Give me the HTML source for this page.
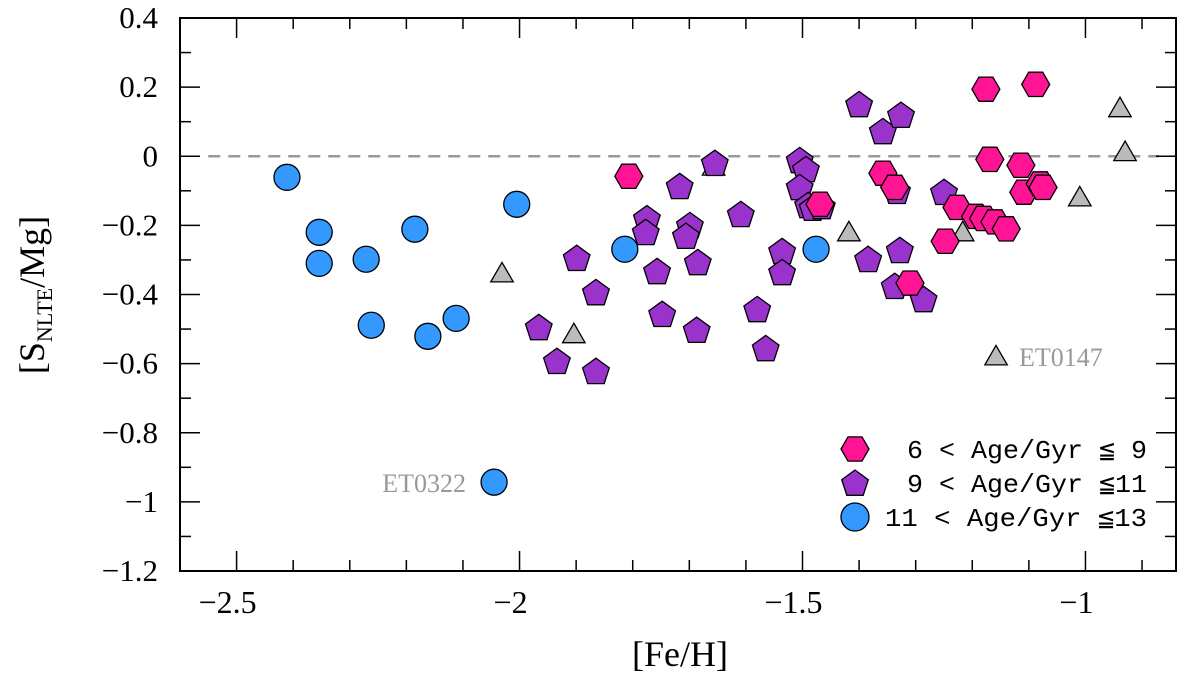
<!DOCTYPE html>
<html><head><meta charset="utf-8"><style>
html,body{margin:0;padding:0;background:#fff;}
svg{display:block;font-family:"Liberation Serif",serif;}
</style></head><body>
<svg id="chart" width="1200" height="675" viewBox="0 0 1200 675"></svg>
<script>
const blueX=[-2.411,-2.354,-2.354,-2.271,-2.262,-2.185,-2.162,-2.112,-2.005,-2.045,-1.814,-1.476];
const blueY=[-0.061,-0.22,-0.31,-0.298,-0.489,-0.211,-0.521,-0.469,-0.139,-0.943,-0.269,-0.269];
const pinkX=[-1.807,-1.176,-1.088,-1.169,-1.358,-1.337,-1.469,-1.227,-1.248,-1.31,-1.194,-1.18,-1.16,-1.14,-1.114,-1.109,-1.08,-1.075];
const pinkY=[-0.058,0.194,0.208,-0.009,-0.049,-0.09,-0.139,-0.148,-0.246,-0.367,-0.174,-0.18,-0.19,-0.21,-0.026,-0.104,-0.08,-0.09];
const purpX=[-1.655,-1.717,-1.775,-1.777,-1.699,-1.706,-1.899,-1.757,-1.685,-1.865,-1.748,-1.687,-1.966,-1.934,-1.865,-1.609,-1.58,-1.565,-1.536,-1.536,-1.505,-1.494,-1.505,-1.49,-1.482,-1.466,-1.4,-1.358,-1.326,-1.333,-1.384,-1.328,-1.337,-1.286,-1.25];
const purpY=[-0.02,-0.087,-0.18,-0.22,-0.2,-0.231,-0.295,-0.333,-0.307,-0.394,-0.457,-0.503,-0.495,-0.593,-0.622,-0.168,-0.443,-0.556,-0.275,-0.336,-0.012,-0.038,-0.09,-0.142,-0.15,-0.145,0.15,0.072,0.119,-0.101,-0.298,-0.272,-0.376,-0.414,-0.104];
const greyX=[-1.657,-2.031,-1.904,-1.418,-1.217,-1.158,-1.01,-0.939,-0.93];
const greyY=[-0.03,-0.339,-0.515,-0.22,-0.22,-0.579,-0.119,0.139,0.012];
const xTicks=[-2.5,-2,-1.5,-1];
const xTickLabels=["\u22122.5","\u22122","\u22121.5","\u22121"];
const yTicks=[0.4,0.2,0,-0.2,-0.4,-0.6,-0.8,-1,-1.2];
const yTickLabels=["0.4","0.2","0","\u22120.2","\u22120.4","\u22120.6","\u22120.8","\u22121","\u22121.2"];

const L=180,R=1176,T=18,B=571,X0=-2.6,X1=-0.84,Y0=-1.2,Y1=0.4;
const sx=v=>L+(v-X0)/(X1-X0)*(R-L);
const sy=v=>B-(v-Y0)/(Y1-Y0)*(B-T);
const svg=document.getElementById('chart');
const NS='http://www.w3.org/2000/svg';
function mk(tag,at,txt){const e=document.createElementNS(NS,tag);for(const k in at)e.setAttribute(k,at[k]);if(txt!==undefined)e.textContent=txt;svg.appendChild(e);return e;}
function poly(n,cx,cy,r,rot){let p=[];for(let i=0;i<n;i++){const a=rot+i*2*Math.PI/n;p.push((cx+r*Math.cos(a)).toFixed(1)+','+(cy+r*Math.sin(a)).toFixed(1));}return p.join(' ');}

let z=mk('line',{x1:sx(-2.55),x2:sx(-0.87),y1:sy(0),y2:sy(0),stroke:'#999',"stroke-width":2.5,"stroke-dasharray":"12,8"});



for(let v=-2.6;v<=-0.84+1e-9;v+=0.1){const vv=Math.round(v*10)/10;const maj=Math.abs(vv*2-Math.round(vv*2))<1e-6;const len=maj?20:11;
 mk('line',{x1:sx(vv),x2:sx(vv),y1:B,y2:B-len,stroke:'#000',"stroke-width":1.5});
 mk('line',{x1:sx(vv),x2:sx(vv),y1:T,y2:T+len,stroke:'#000',"stroke-width":1.5});}
for(let i=-12;i<=4;i++){const vv=i/10;const maj=i%2===0;const len=maj?20:11;
 mk('line',{x1:L,x2:L+len,y1:sy(vv),y2:sy(vv),stroke:'#000',"stroke-width":1.5});
 mk('line',{x1:R,x2:R-len,y1:sy(vv),y2:sy(vv),stroke:'#000',"stroke-width":1.5});}
xTicks.forEach((v,i)=>{const t=mk('text',{x:sx(v)-9,y:613,"font-size":32,"text-anchor":"middle"},xTickLabels[i]);
 
 });
yTicks.forEach((v,i)=>{const t=mk('text',{x:158,y:sy(v)+10,"font-size":31,"text-anchor":"end"},yTickLabels[i]);
 
 });

let fr=mk('rect',{x:L,y:T,width:R-L,height:B-T,fill:'none',stroke:'#000',"stroke-width":2});



let xt=mk('text',{x:680,y:666,"font-size":36,"text-anchor":"middle"},'[Fe/H]');


let yt=mk('text',{x:0,y:0,"font-size":36,"text-anchor":"middle",transform:'translate(44,295) rotate(-90)'});
yt.innerHTML='[S<tspan font-size="22" dy="8">NLTE</tspan><tspan dy="-8">/Mg]</tspan>';



greyX.forEach((v,i)=>{const cx=sx(v),cy=sy(greyY[i]);const p=mk('polygon',{points:poly(3,cx,cy+2,13,-Math.PI/2),fill:'#bbb',stroke:'#000',"stroke-width":1.3});
 
 });
blueX.forEach((v,i)=>{const c=mk('circle',{cx:sx(v),cy:sy(blueY[i]),r:13,fill:'#3399ff',stroke:'#000',"stroke-width":1.3});
 
 });
purpX.forEach((v,i)=>{const p=mk('polygon',{points:poly(5,sx(v),sy(purpY[i])+1,14,-Math.PI/2),fill:'#9933cc',stroke:'#000',"stroke-width":1.3});
 
 });
pinkX.forEach((v,i)=>{const p=mk('polygon',{points:poly(6,sx(v),sy(pinkY[i]),14,0),fill:'#ff1493',stroke:'#000',"stroke-width":1.3});
 
 });

let a1=mk('text',{x:1019,y:366,"font-size":26,fill:'#999'},'ET0147');


let a2=mk('text',{x:466,y:492,"font-size":26,fill:'#999',"text-anchor":"end"},'ET0322');



const lg=[['hex','#ff1493','6 < Age/Gyr \u2266 9'],['pent','#9933cc','9 < Age/Gyr \u226611'],['circ','#3399ff','11 < Age/Gyr \u226613']];
lg.forEach((e,i)=>{const cy=449+i*34,cx=855;let m;
 if(e[0]==='hex')m=mk('polygon',{points:poly(6,cx,cy,14,0),fill:e[1],stroke:'#000',"stroke-width":1.3});
 else if(e[0]==='pent')m=mk('polygon',{points:poly(5,cx,cy+1,14,-Math.PI/2),fill:e[1],stroke:'#000',"stroke-width":1.3});
 else m=mk('circle',{cx:cx,cy:cy,r:14,fill:e[1],stroke:'#000',"stroke-width":1.3});
 
 
 const t=mk('text',{x:1147,y:cy+9,"font-size":26,"text-anchor":"end","font-family":"Liberation Mono, monospace",textLength:i===2?262:240,lengthAdjust:'spacingAndGlyphs'},e[2]);
 
 });
</script>
</body></html>
